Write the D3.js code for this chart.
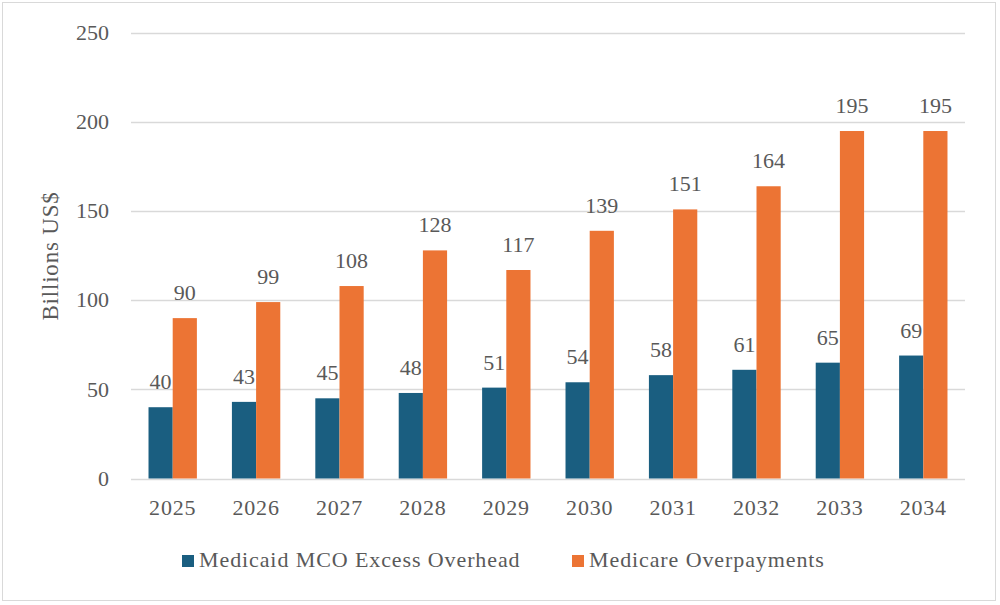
<!DOCTYPE html>
<html>
<head>
<meta charset="utf-8">
<script src="https://cdn.jsdelivr.net/npm/d3@7"></script>
<style>
  body { margin: 0; background: #fff; }
</style>
</head>
<body>
<svg id="chart"></svg>
<script>
var years = ["2025", "2026", "2027", "2028", "2029", "2030", "2031", "2032", "2033", "2034"];
var medicaid = [40, 43, 45, 48, 51, 54, 58, 61, 65, 69];
var medicare = [90, 99, 108, 128, 117, 139, 151, 164, 195, 195];
var seriesNames = ["Medicaid MCO Excess Overhead", "Medicare Overpayments"];
var yTicks = [0, 50, 100, 150, 200, 250];

var viewWidth = 1000;
var viewHeight = 605;
var margin = { top: 33, right: 35, bottom: 126.5, left: 131 };
var width = viewWidth - margin.left - margin.right;
var height = viewHeight - margin.top - margin.bottom;
var colors = ["#1a5e80", "#ec7434"];
var font = "'Liberation Serif', 'Times New Roman', serif";
var textColor = "#595959";

var svg = d3.select("#chart")
    .attr("width", viewWidth)
    .attr("height", viewHeight)
    .style("font-family", font);

// outer frame
svg.append("rect")
    .attr("x", 2.5).attr("y", 2.5)
    .attr("width", 993).attr("height", 598)
    .attr("fill", "#fff")
    .attr("stroke", "#d9d9d9");

var chart = svg.append("g")
    .attr("transform", "translate(" + margin.left + "," + margin.top + ")");

var x = d3.scaleBand()
    .domain(years)
    .range([0, width])
    .paddingInner(0.42)
    .paddingOuter(0.21);

var xInner = d3.scaleBand()
    .domain([0, 1])
    .range([0, x.bandwidth()]);

var y = d3.scaleLinear()
    .domain([0, 250])
    .range([height, 0]);

// gridlines
chart.append("g")
    .selectAll("line")
    .data(yTicks)
    .enter().append("line")
    .attr("x1", 0).attr("x2", width)
    .attr("y1", function (d) { return Math.round(y(d)) + 0.5; })
    .attr("y2", function (d) { return Math.round(y(d)) + 0.5; })
    .attr("stroke", "#d9d9d9")
    .attr("stroke-width", 1.3);

// y axis labels
var yAxis = d3.axisLeft(y).tickValues(yTicks).tickSize(0).tickPadding(22);
chart.append("g")
    .call(yAxis)
    .call(function (g) { g.select(".domain").remove(); })
    .selectAll("text")
    .attr("dy", "0.3em")
    .style("font-family", font)
    .style("font-size", "22px")
    .attr("fill", textColor);

// x axis labels
var xAxis = d3.axisBottom(x).tickSize(0).tickPadding(0);
chart.append("g")
    .attr("transform", "translate(0," + height + ")")
    .call(xAxis)
    .call(function (g) { g.select(".domain").remove(); })
    .selectAll("text")
    .attr("y", 36.5)
    .attr("dy", 0)
    .style("font-family", font)
    .style("font-size", "22px")
    .style("letter-spacing", "0.8px")
    .attr("fill", textColor);

var data = years.map(function (yr, i) { return { year: yr, values: [medicaid[i], medicare[i]] }; });

var groups = chart.selectAll(".grp")
    .data(data)
    .enter().append("g")
    .attr("class", "grp")
    .attr("transform", function (d) { return "translate(" + x(d.year) + ",0)"; });

groups.selectAll("rect")
    .data(function (d) { return d.values; })
    .enter().append("rect")
    .attr("x", function (d, i) { return xInner(i); })
    .attr("width", xInner.bandwidth())
    .attr("y", function (d) { return y(d); })
    .attr("height", function (d) { return height - y(d); })
    .attr("fill", function (d, i) { return colors[i]; });

groups.selectAll(".lbl")
    .data(function (d) { return d.values; })
    .enter().append("text")
    .attr("class", "lbl")
    .attr("x", function (d, i) { return xInner(i) + xInner.bandwidth() / 2; })
    .attr("y", function (d) { return y(d) - 18; })
    .attr("text-anchor", "middle")
    .attr("fill", textColor)
    .style("font-size", "22px")
    .text(function (d) { return d; });

// y title
svg.append("text")
    .attr("transform", "translate(58,256) rotate(-90)")
    .attr("text-anchor", "middle")
    .attr("fill", textColor)
    .style("font-size", "23px")
    .style("letter-spacing", "0.8px")
    .text("Billions US$");

// legend
var legendX = [182, 572];
var legend = svg.selectAll(".leg")
    .data(seriesNames)
    .enter().append("g")
    .attr("class", "leg")
    .attr("transform", function (d, i) { return "translate(" + legendX[i] + ",555)"; });

legend.append("rect")
    .attr("width", 12).attr("height", 12)
    .attr("fill", function (d, i) { return colors[i]; });

legend.append("text")
    .attr("x", 17)
    .attr("y", 12)
    .attr("fill", textColor)
    .style("font-size", "22px")
    .style("letter-spacing", "0.9px")
    .text(function (d) { return d; });
</script>
</body>
</html>
